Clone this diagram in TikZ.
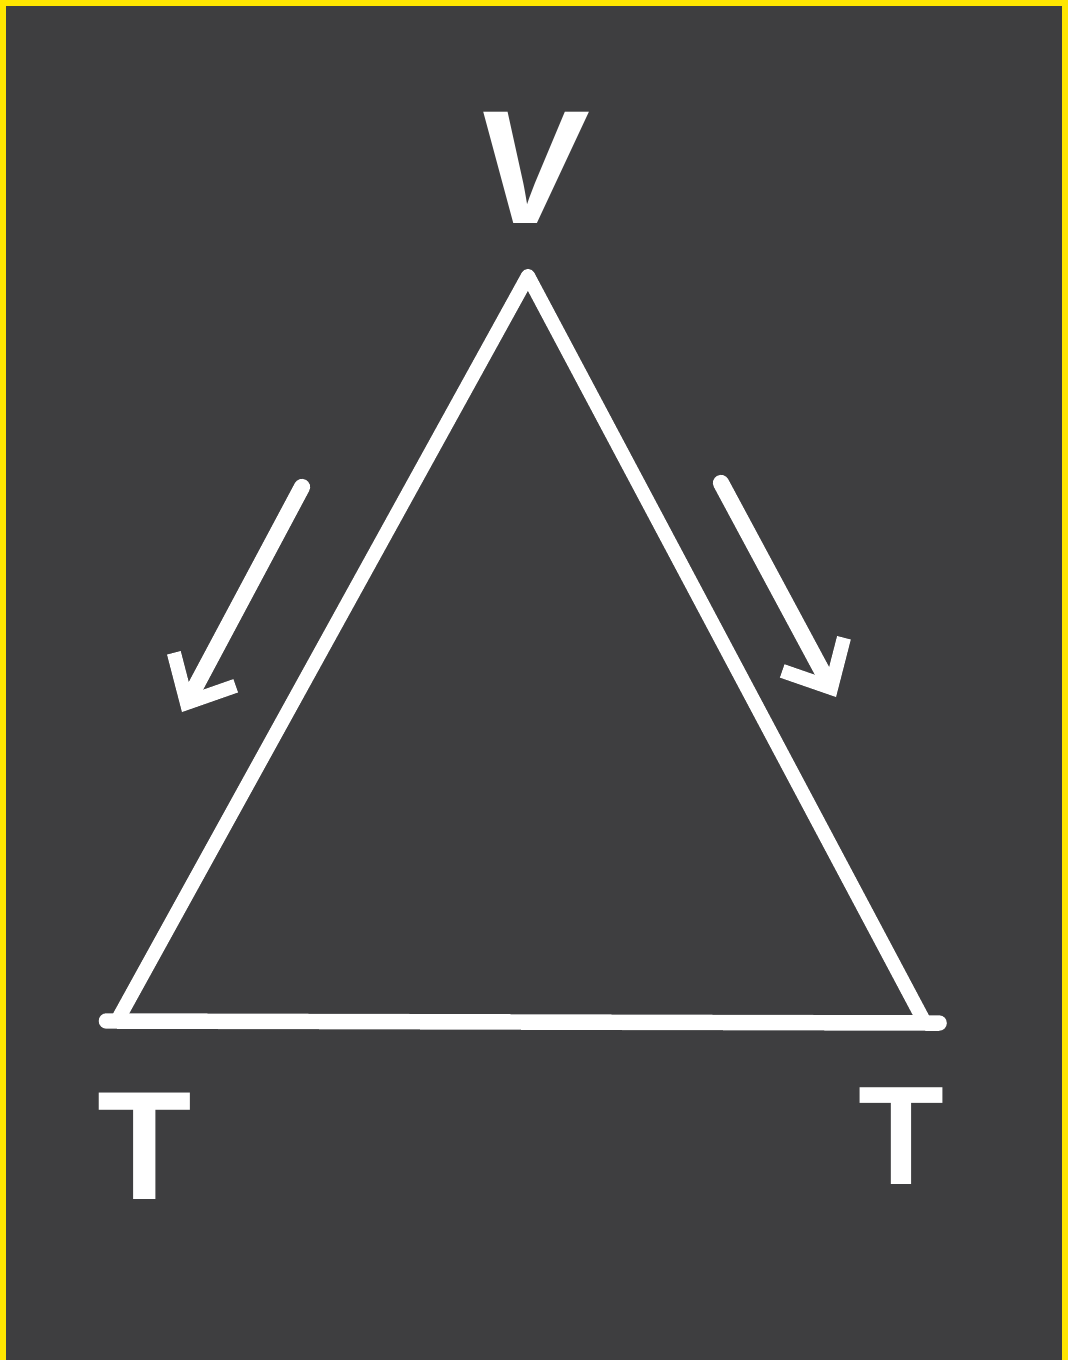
\documentclass[tikz,border=0pt]{standalone}
\usepackage{fontspec}
\setmainfont{Liberation Sans}
\usetikzlibrary{arrows.meta,positioning}
\definecolor{boardgray}{HTML}{3E3E40}
\definecolor{frameyellow}{HTML}{FFE600}

\begin{document}
\begin{tikzpicture}[x=0.01cm,y=-0.01cm,
  chalk/.style={white,line width=4pt,line cap=round,line join=round},
  flow/.style={white,line width=4.6pt,line cap=round,-{Straight Barb[length=3.8mm,width=7mm,line width=4pt]}},
  letter/.style={text=white,font=\bfseries\fontsize{44}{44}\selectfont,inner sep=0pt}
]
% board and frame
\fill[frameyellow] (0,0) rectangle (1068,1360);
\fill[boardgray] (6,6) rectangle (1062,1360);
\useasboundingbox (0,0) rectangle (1068,1360);
% corners of the triangle
\coordinate (apex) at (528,276);
\coordinate (left) at (117,1021);
\coordinate (right) at (925,1023);
\draw[chalk] (left) -- (apex) -- (right);
\draw[chalk,line width=4.4pt,shorten <=-3pt,shorten >=-4pt] (left) -- (right);
% labels
\node[letter,font=\bfseries\fontsize{46}{46}\selectfont,xslant=0.1] (v) at (531,168) {V};
\node[letter] (tl) at (145,1146) {T};
\node[letter,font=\bfseries\fontsize{40}{40}\selectfont] (tr) at (901,1136) {T};
% direction arrows
\coordinate (l1) at (302,487);
\coordinate (l2) at (182,712);
\coordinate (r1) at (721,483);
\coordinate (r2) at (836,697);
\draw[flow] (l1) -- (l2);
\draw[flow] (r1) -- (r2);
\end{tikzpicture}
\end{document}
